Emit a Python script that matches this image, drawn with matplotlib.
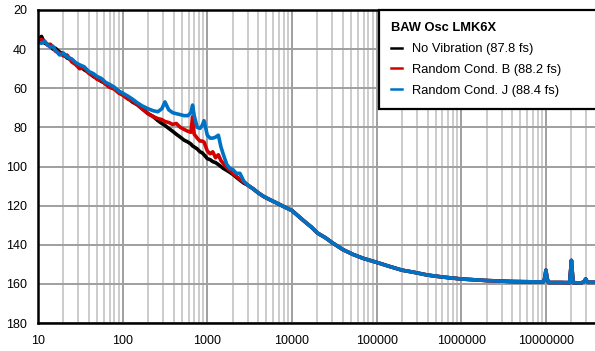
import numpy as np
import matplotlib
matplotlib.use('Agg')
import matplotlib.pyplot as plt
from matplotlib.ticker import LogLocator, FixedLocator, NullFormatter

plt.rcParams['font.family'] = ['Liberation Sans', 'DejaVu Sans']

# offset frequency (Hz), low band where the three traces differ
freq_lo = [10, 11, 12, 13, 14, 15, 16, 18, 20, 22, 25, 28, 31, 35, 40, 45, 50, 56,
           63, 70, 80, 90, 100, 115, 130, 150, 170, 200, 230, 260, 290, 316, 350,
           390, 430, 480, 530, 590, 640, 670, 700, 760, 820, 870, 914, 960, 1000,
           1080, 1160, 1250, 1350, 1450, 1550, 1700, 1850, 2000, 2200, 2430, 2700, 3000]

no_vib_lo = [35.5, 33.5, 37, 37.5, 38.5, 40, 39.5, 41.5, 42.5, 44.5, 45.5, 47.5, 48.5,
             50.5, 52, 54, 55, 56.5, 57.5, 59, 60, 61.5, 63, 65, 67, 68.5, 70.5, 73,
             74.5, 76.5, 78, 79, 80.5, 82, 83.5, 85, 86.5, 87.5, 88.5, 89.5, 90, 91,
             92.5, 93, 94, 95, 96, 96.5, 97.5, 98, 99, 100, 101, 102, 103, 104, 105.5,
             107, 108.5, 109.5]

cond_b_lo = [36, 35, 36, 38, 37.5, 39, 41, 42, 43.5, 43, 46.5, 48, 50, 49.5, 52.5, 53.5,
             55.5, 56, 58, 59.5, 60.5, 62.5, 63.5, 65.5, 66.5, 68.5, 70.5, 73, 74.5,
             75.5, 76, 77, 77.5, 78.5, 78, 80, 81, 82, 82.5, 74.5, 83.5, 85.5, 87, 87,
             87.5, 90, 92, 93.5, 92.5, 95.5, 94, 97, 98.5, 100.5, 102, 103.5, 105,
             106.5, 108, 109.5]

cond_j_lo = [36.5, 37, 36, 38, 39, 38.5, 40.5, 43, 42, 44, 45, 47, 48, 49, 51.5, 52.5,
             54, 55, 57, 58, 59.5, 61.5, 62.5, 64, 65.5, 67.5, 69, 70.5, 71.5, 72,
             70.5, 67, 71, 72.5, 73, 73.5, 74, 74, 72.5, 68.6, 74, 80, 80.5, 79, 76.6,
             80.5, 84, 85.5, 85.5, 85, 84, 90, 94, 99, 101, 101.5, 103.5, 103.5,
             107.5, 109.5]

# high band, all three traces overlap
freq_hi = [3500, 4000, 4700, 5500, 6500, 8000, 10000, 12000, 14000, 17000, 20000,
           25000, 30000, 40000, 53000, 70000, 100000, 140000, 200000, 270000, 400000,
           600000, 1e6, 2e6, 4e6, 8e6, 9.3e6, 9.7e6, 1e7, 1.03e7, 1.07e7, 1.5e7, 1.9e7,
           1.96e7, 2.0e7, 2.04e7, 2.1e7, 2.6e7, 2.8e7, 2.95e7, 3.1e7, 3.8e7]

noise_hi = [111.5, 113.5, 115.5, 117, 118.5, 120.5, 122.5, 125.5, 128, 131, 134, 136.5,
            139, 142.5, 145, 147, 149, 151, 153, 154, 155.5, 156.5, 157.5, 158.3, 158.8,
            159, 159, 157, 153, 157, 159.3, 159.3, 159.4, 153, 148, 153, 159.4, 159.5,
            159, 157.5, 159.2, 159.2]

series = [
    ('No Vibration (87.8 fs)', no_vib_lo, '#000000'),
    ('Random Cond. B (88.2 fs)', cond_b_lo, '#d40000'),
    ('Random Cond. J (88.4 fs)', cond_j_lo, '#0072c6'),
]

fig = plt.figure(figsize=(5.95, 3.51), dpi=100)
ax = fig.add_axes([38 / 595, 1 - 323 / 351, 1 - 38 / 595, (323 - 10) / 351])

for label, lo, color in series:
    ax.plot(freq_lo + freq_hi, lo + noise_hi, color=color, lw=2.6, label=label,
            solid_joinstyle='round')

ax.set_xscale('log')
ax.set_xlim(10, 3.8e7)
ax.set_ylim(180, 20)
ax.yaxis.set_major_locator(FixedLocator(range(20, 181, 20)))
ax.xaxis.set_major_locator(FixedLocator([10, 100, 1e3, 1e4, 1e5, 1e6, 1e7]))
ax.set_xticklabels(['10', '100', '1000', '10000', '100000', '1000000', '10000000'])
ax.xaxis.set_minor_locator(LogLocator(base=10, subs=np.arange(2, 10), numticks=20))
ax.xaxis.set_minor_formatter(NullFormatter())

ax.grid(which='minor', axis='x', color='#c8c8c8', lw=1.3)
ax.grid(which='major', axis='x', color='#9f9f9f', lw=1.4)
ax.grid(which='major', axis='y', color='#9f9f9f', lw=1.4)
ax.set_axisbelow(True)

ax.tick_params(which='both', length=0, labelsize=9, colors='black')
ax.tick_params(axis='x', pad=9)
ax.tick_params(axis='y', pad=8)
for side in ['left', 'bottom', 'top']:
    ax.spines[side].set_linewidth(1.8)
    ax.spines[side].set_color('black')
ax.spines['right'].set_visible(False)

leg = ax.legend(loc='upper left', bbox_to_anchor=(341 / 557, 0, 0.5, 1),
                mode='expand', title='BAW Osc LMK6X', alignment='left',
                fontsize=9.3, title_fontproperties={'weight': 'bold', 'size': 9.3},
                handlelength=0.8, handletextpad=0.8, labelspacing=0.68,
                borderpad=0.95, fancybox=False, framealpha=1, borderaxespad=0)
leg.get_frame().set_edgecolor('black')
leg.get_frame().set_linewidth(1.6)
for line in leg.get_lines():
    line.set_linewidth(1.8)

fig.savefig('out.png', dpi=100)
